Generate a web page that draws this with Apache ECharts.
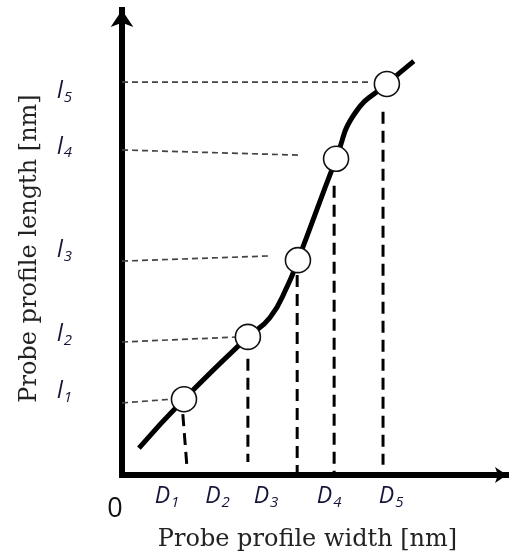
<!DOCTYPE html>
<html>
<head>
<meta charset="utf-8">
<style>
  html, body { margin: 0; padding: 0; background: #fff; }
  #main { width: 509px; height: 553px; }
</style>
<script src="https://cdn.jsdelivr.net/npm/echarts@6/dist/echarts.min.js"></script>
</head>
<body>
<div id="main"></div>
<script>
// curve (axis units 0..100)
var curveX = [4.4, 16.1, 32.7, 38.4, 43.1, 45.7, 55.6, 60.5, 68.8, 75.8];
var curveY = [5.8, 16.3, 29.7, 33.8, 40.9, 46.2, 68.0, 77.8, 84.1, 89.0];

// the five open circles
var markerX = [16.1, 32.7, 45.7, 55.6, 68.8];
var markerY = [16.3, 29.7, 46.2, 68.0, 84.1];

// thin grey guides to the y axis
var hFromX = [0, 0, 0, 0, 0];
var hFromY = [15.5, 28.6, 46.0, 69.9, 84.5];
var hToX = [13.0, 30.6, 37.9, 45.7, 64.9];
var hToY = [16.3, 29.7, 47.1, 68.8, 84.5];

// thick dashed guides to the x axis
var vFromX = [15.8, 32.7, 45.5, 55.1, 67.8];
var vFromY = [13.1, 25.0, 43.0, 62.2, 78.1];
var vToX = [16.9, 32.7, 45.5, 55.1, 67.8];
var vToY = [1.4, 2.8, 0, 0, 2.2];

// tick labels
var yTickValues = [17.8, 30.1, 48.2, 70.4, 82.4];
var yTickLabels = ['1', '2', '3', '4', '5'];
var xTickValues = [0, 11.7, 24.8, 37.4, 53.8, 69.9];
var xTickLabels = ['0', '1', '2', '3', '4', '5'];

var myChart = echarts.init(document.getElementById('main'));

var curveData = curveX.map(function (x, i) { return [x, curveY[i]]; });
var markerData = markerX.map(function (x, i) { return [x, markerY[i]]; });

var series = [];
hFromX.forEach(function (x, i) {
    series.push({
        type: 'line',
        data: [[x, hFromY[i]], [hToX[i], hToY[i]]],
        showSymbol: false,
        silent: true,
        lineStyle: { color: '#444', width: 1.7, type: [6, 4] },
        z: 1
    });
});
vFromX.forEach(function (x, i) {
    series.push({
        type: 'line',
        data: [[x, vFromY[i]], [vToX[i], vToY[i]]],
        showSymbol: false,
        silent: true,
        lineStyle: { color: '#000', width: 3, type: [12, 7] },
        z: 1
    });
});
series.push({
    type: 'line',
    data: curveData,
    smooth: 0.5,
    showSymbol: false,
    lineStyle: { color: '#000', width: 5 },
    z: 2
});
series.push({
    type: 'scatter',
    data: markerData,
    symbol: 'circle',
    symbolSize: 25,
    itemStyle: { color: '#fff', borderColor: '#111', borderWidth: 1.6, opacity: 1 },
    z: 3
});

var subStyle = { fontFamily: 'Open Sans', fontStyle: 'italic', fontSize: 15, lineHeight: 15, color: '#15153a', verticalAlign: 'top', padding: [10, 0, 0, 1] };

option = {
    animation: false,
    grid: {
        left: 122,
        top: 10,
        width: 385,
        height: 465,
        outerBoundsMode: 'none'
    },
    xAxis: {
        type: 'value',
        min: 0,
        max: 100,
        name: 'Probe profile width [nm]',
        nameLocation: 'middle',
        nameGap: 52,
        nameTextStyle: {
            fontFamily: 'DejaVu Serif',
            fontSize: 24,
            color: '#222',
            padding: [0, 14, 0, 0]
        },
        splitLine: { show: false },
        axisTick: { show: false },
        axisLine: {
            lineStyle: { color: '#000', width: 6, cap: 'square' },
            symbol: ['none', 'arrow'],
            symbolSize: [12, 12]
        },
        axisLabel: {
            customValues: xTickValues,
            margin: 10,
            fontSize: 23,
            formatter: function (v) {
                var i = xTickValues.indexOf(v);
                if (i === 0) return '{z|' + xTickLabels[0] + '}';
                return '{d|D}{s|' + xTickLabels[i] + '}';
            },
            rich: {
                z: { fontFamily: 'Open Sans', fontSize: 27, color: '#111', padding: [11, 14, 0, 0], verticalAlign: 'top' },
                d: { fontFamily: 'Open Sans', fontStyle: 'italic', fontSize: 23, lineHeight: 24, color: '#15153a', verticalAlign: 'top' },
                s: subStyle
            }
        }
    },
    yAxis: {
        type: 'value',
        min: 0,
        max: 100,
        name: 'Probe profile length [nm]',
        nameLocation: 'middle',
        nameGap: 80,
        nameTextStyle: {
            fontFamily: 'DejaVu Serif',
            fontSize: 24,
            color: '#222',
            padding: [0, 12, 0, 0]
        },
        splitLine: { show: false },
        axisTick: { show: false },
        axisLine: {
            lineStyle: { color: '#000', width: 6, cap: 'square' },
            symbol: ['none', 'arrow'],
            symbolSize: [17, 17]
        },
        axisLabel: {
            customValues: yTickValues,
            margin: 50,
            fontSize: 23,
            formatter: function (v) {
                var i = yTickValues.indexOf(v);
                return '{l|l}{s|' + yTickLabels[i] + '}';
            },
            rich: {
                l: { fontFamily: 'Open Sans', fontStyle: 'italic', fontSize: 23, lineHeight: 24, color: '#15153a', verticalAlign: 'top' },
                s: subStyle
            }
        }
    },
    series: series
};
myChart.setOption(option);
</script>
</body>
</html>
